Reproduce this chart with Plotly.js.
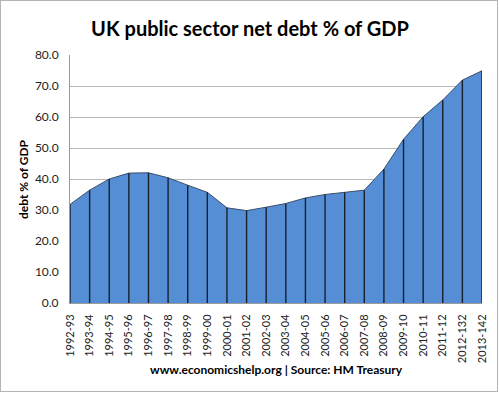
<!DOCTYPE html>
<html>
<head>
<meta charset="utf-8">
<script src="https://cdn.plot.ly/plotly-3.0.1.min.js"></script>
<style>
html,body{margin:0;padding:0;background:#fff;}
#wrap{position:relative;width:500px;height:394px;}
#chart{width:500px;height:394px;}
#frame{position:absolute;left:0;top:0;width:498px;height:392px;border:1px solid #b4b4b4;box-sizing:border-box;pointer-events:none;}
</style>
</head>
<body>
<div id="wrap"><div id="chart"></div><div id="frame"></div></div>
<script>
const years = ["1992-93","1993-94","1994-95","1995-96","1996-97","1997-98","1998-99","1999-00","2000-01","2001-02","2002-03","2003-04","2004-05","2005-06","2006-07","2007-08","2008-09","2009-10","2010-11","2011-12","2012-132","2013-142"];
const debt = [31.8,36.4,40.0,41.9,42.0,40.4,38.0,35.7,30.7,29.8,30.9,32.1,33.9,35.0,35.7,36.4,43.2,52.8,60.1,65.5,71.9,74.9];
const yTicks = [0,10,20,30,40,50,60,70,80];
const titleText = "UK public sector net debt % of GDP";
const yTitleText = "debt % of GDP";
const sourceText = "www.economicshelp.org | Source: HM Treasury";

const FONT = "Lato, 'Open Sans', sans-serif";

const area = {
  type: 'scatter', mode: 'lines',
  x: years, y: debt,
  fill: 'tozeroy', fillcolor: '#558ed5',
  line: {color: '#3c4f6b', width: 1},
  hoverinfo: 'skip', showlegend: false
};
const drops = {
  type: 'scatter', mode: 'markers',
  x: years, y: debt,
  marker: {size: 1, opacity: 0},
  error_y: {type: 'data', symmetric: false, array: debt.map(() => 0), arrayminus: debt, width: 0, thickness: 1.4, color: '#17202e'},
  hoverinfo: 'skip', showlegend: false
};

const layout = {
  width: 500, height: 394,
  margin: {l: 70, r: 18, t: 55, b: 91, pad: 0},
  paper_bgcolor: '#ffffff', plot_bgcolor: '#ffffff',
  font: {family: FONT, color: '#222'},
  title: {text: '<b>' + titleText + '</b>', x: 0.5, xref: 'container', y: 0.927, yref: 'container', yanchor: 'middle', xanchor: 'center', font: {family: FONT, size: 20, color: '#000'}},
  xaxis: {
    type: 'category', range: [0, years.length - 1],
    tickangle: -90, tickfont: {size: 11, family: FONT, color: '#222'},
    ticklabelstandoff: 6,
    showgrid: false, showline: true, linecolor: '#9a9a9a', linewidth: 1,
    ticks: '', ticklen: 0, zeroline: false, automargin: false
  },
  yaxis: {
    range: [0, 80], tickvals: yTicks, tickformat: '.1f',
    tickfont: {size: 12, family: FONT, color: '#222'},
    ticklabelstandoff: 8,
    showgrid: true, gridcolor: '#b8b8b8', gridwidth: 1,
    showline: true, linecolor: '#9a9a9a', linewidth: 1,
    ticks: '', zeroline: false, automargin: false
  },
  annotations: [
    {text: '<b>' + yTitleText + '</b>', xref: 'paper', yref: 'paper', x: -0.114, y: 0.5, xanchor: 'center', yanchor: 'middle', textangle: -90, showarrow: false, font: {family: FONT, size: 12, color: '#000'}},
    {text: '<b>' + sourceText + '</b>', xref: 'paper', yref: 'paper', x: 0.5, y: -0.27, xanchor: 'center', yanchor: 'middle', showarrow: false, font: {family: FONT, size: 12, color: '#000'}}
  ]
};

Plotly.newPlot('chart', [area, drops], layout, {staticPlot: true, displayModeBar: false});
</script>
</body>
</html>
